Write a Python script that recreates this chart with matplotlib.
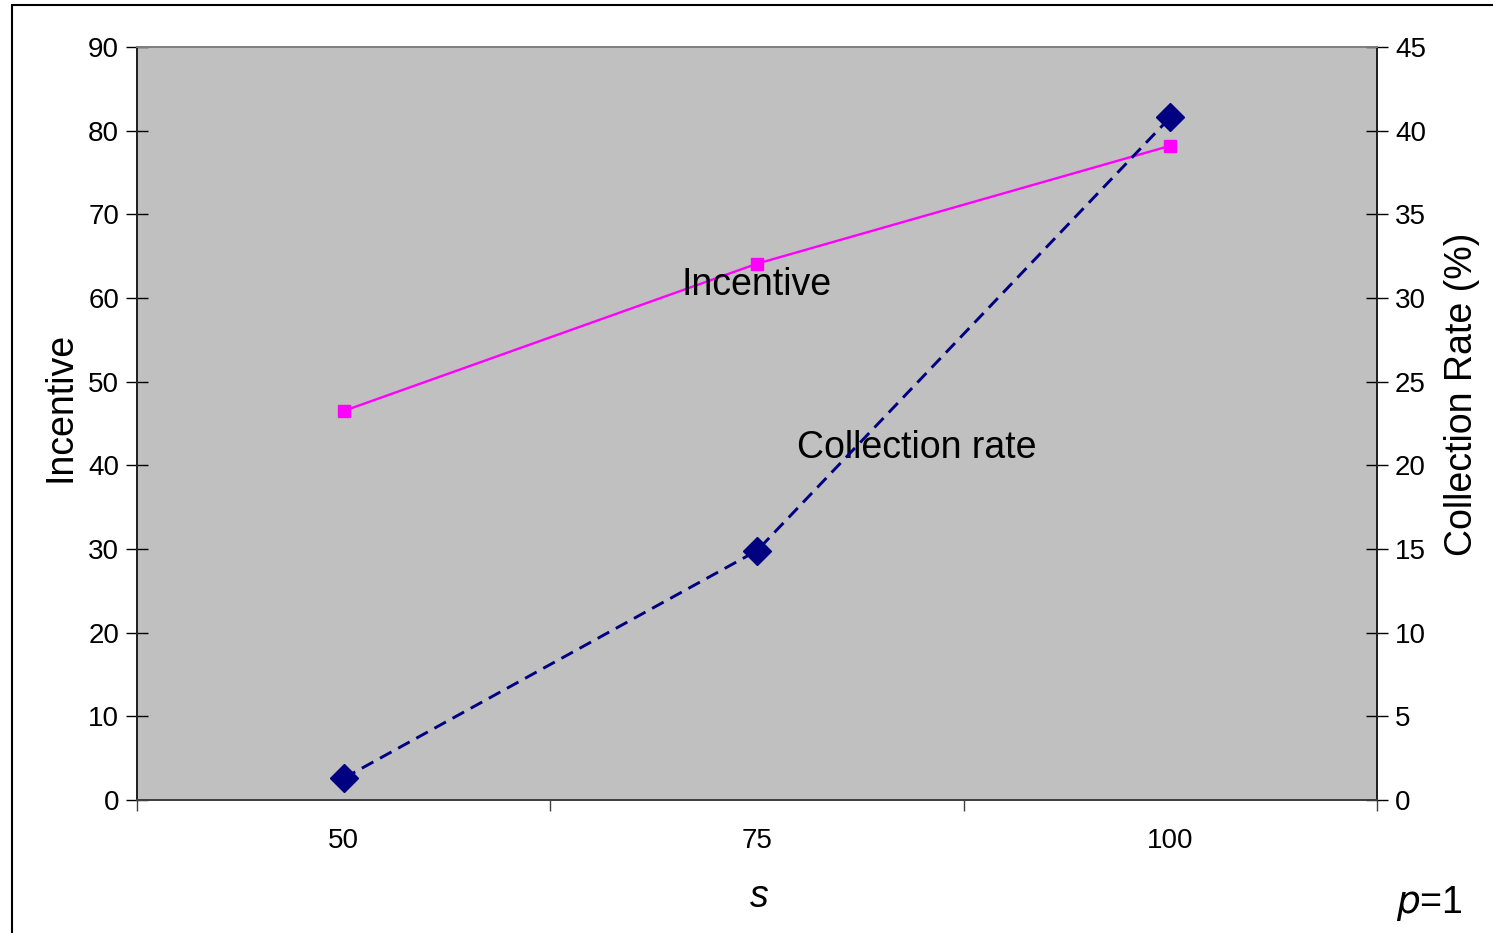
"""
Incentive and collection rate against s (p=1), two y axes.
"""

import matplotlib.pyplot as plt
import numpy as np
from matplotlib.patches import Rectangle

plt.rcParams['font.family'] = ['Liberation Sans', 'DejaVu Sans']

# data
s_values = ['50', '75', '100']
incentive = [46.5, 64.1, 78.2]
collection_rate = [1.3, 14.9, 40.8]   # percent, right axis

fig = plt.figure(figsize=(14.93, 9.33), dpi=100)
ax = fig.add_axes([0.0918, 0.1426, 0.8305, 0.8070])
ax2 = ax.twinx()

ax.set_facecolor('#C0C0C0')
x = np.arange(len(s_values))

# incentive, left axis
ax.plot(x, incentive, color='#FF00FF', linewidth=1.7, marker='s', markersize=8.5,
        markeredgecolor='#FF00FF', zorder=3)

# collection rate, right axis
ax2.plot(x, collection_rate, color='#000080', linewidth=2.1, linestyle=(0, (4.5, 2.6)),
         marker='D', markersize=14.5, zorder=3)

ax.set_xlim(-0.5, 2.5)
ax.set_ylim(0, 90)
ax2.set_ylim(0, 45)
ax.set_yticks(np.arange(0, 91, 10))
ax2.set_yticks(np.arange(0, 46, 5))

# category ticks sit between the categories, labels at the centres
ax.set_xticks(np.arange(-0.5, 2.6, 1.0))
ax.set_xticklabels([])
ax.set_xticks(x, minor=True)
ax.set_xticklabels(s_values, minor=True)
ax.tick_params(axis='x', which='major', direction='out', length=8, width=1, color='#404040')
ax.tick_params(axis='x', which='minor', length=0, pad=20, labelsize=20)
ax.tick_params(axis='y', direction='inout', length=16, width=1, pad=5, labelsize=20)
ax2.tick_params(axis='y', direction='inout', length=16, width=1, pad=5, labelsize=20)

for a in (ax, ax2):
    a.spines['top'].set_color('#808080')
    a.spines['left'].set_color('#202020')
    a.spines['right'].set_color('#202020')
    a.spines['bottom'].set_color('#404040')
    for sp in a.spines.values():
        sp.set_linewidth(1.3)

ax.set_ylabel('Incentive', fontsize=27)
ax.yaxis.set_label_coords(-0.0476, 0.522)
ax2.set_ylabel('Collection Rate (%)', fontsize=27)
ax2.yaxis.set_label_coords(1.054, 0.539)
ax.set_xlabel('s', fontsize=27, style='italic')
ax.xaxis.set_label_coords(0.502, -0.105)

# in-plot series names
ax.text(1.0, 61.6, 'Incentive', fontsize=27, ha='center', va='center', zorder=5)
ax.text(1.097, 42.1, 'Collection rate', fontsize=27, ha='left', va='center', zorder=5)

fig.text(0.9795, 0.032, '$\\mathit{p}$=1', fontsize=27, ha='right', va='center',
         math_fontfamily='custom')

# chart area border
fig.add_artist(Rectangle((12 / 1493, -0.5), 2, 1.5 - 5 / 933, transform=fig.transFigure,
                         fill=False, edgecolor='#000000', linewidth=1.5))

fig.savefig('out.png', dpi=100)
